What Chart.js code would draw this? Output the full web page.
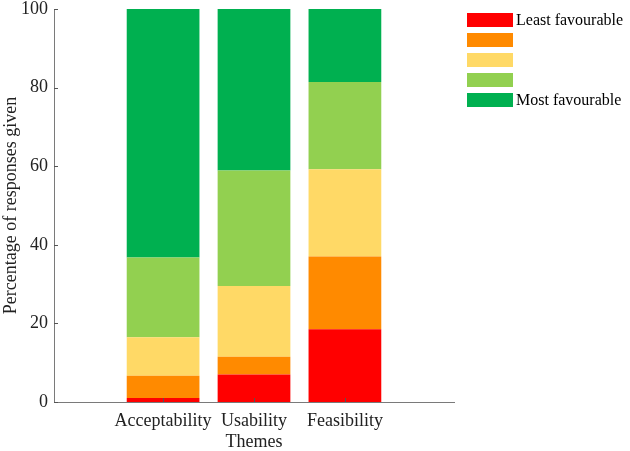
<!DOCTYPE html>
<html>
<head>
<meta charset="utf-8">
<script src="https://cdn.jsdelivr.net/npm/chart.js@4"></script>
<style>
  html, body { margin: 0; padding: 0; background: #fff; }
  #wrap { width: 630px; height: 451px; }
</style>
</head>
<body>
<div id="wrap"><canvas id="chart" width="630" height="451"></canvas></div>
<script>
// categories (x positions 1..3) and legend labels
var themes = ["Acceptability", "Usability", "Feasibility"];
var themePos = [1, 2, 3];
var levels = ["Least favourable", "", "", "", "Most favourable"];
var levelColors = ["#ff0000", "#ff8a00", "#ffd966", "#92d050", "#00b050"];

// percentage of responses per level, one array per level
var leastFav = [1.0, 7.0, 18.5];
var level2 = [5.7, 4.5, 18.5];
var level3 = [9.8, 18.0, 22.2];
var level4 = [20.3, 29.4, 22.2];
var mostFav = [63.2, 41.1, 18.6];
var yTicks = [0, 20, 40, 60, 80, 100];

var series = [leastFav, level2, level3, level4, mostFav];
var serif = "'Liberation Serif', 'Times New Roman', serif";
var axisColor = "#7a7a7a";

// inward tick marks + right-hand legend
var extras = {
    id: "extras",
    afterDatasetsDraw: function (chart) {
        var c = chart.ctx, x = chart.scales.x, y = chart.scales.y;
        c.save();
        c.strokeStyle = "#555";
        c.lineWidth = 1;
        themePos.forEach(function (p) {
            var px = Math.round(x.getPixelForValue(p)) + 0.5;
            c.beginPath();
            c.moveTo(px, y.bottom);
            c.lineTo(px, y.bottom - 4);
            c.stroke();
        });
        yTicks.forEach(function (t) {
            var py = Math.round(y.getPixelForValue(t)) + 0.5;
            c.beginPath();
            c.moveTo(x.left, py);
            c.lineTo(x.left + 4, py);
            c.stroke();
        });
        // legend
        c.font = "16px " + serif;
        c.textBaseline = "middle";
        c.fillStyle = "#000";
        chart.data.datasets.forEach(function (ds, i) {
            var top = 13 + i * 20;
            c.fillStyle = ds.backgroundColor;
            c.fillRect(467, top, 46, 14);
            c.fillStyle = "#000";
            if (ds.label) c.fillText(ds.label, 516, top + 8);
        });
        c.restore();
    }
};

new Chart(document.getElementById("chart"), {
    type: "bar",
    data: {
        datasets: series.map(function (vals, i) {
            return {
                label: levels[i],
                data: vals.map(function (v, j) { return { x: themePos[j], y: v }; }),
                backgroundColor: levelColors[i],
                borderWidth: 0,
                barPercentage: 0.8,
                categoryPercentage: 1.0
            };
        })
    },
    options: {
        responsive: false,
        animation: false,
        layout: { padding: { left: 0, top: 0, right: 176, bottom: 0 } },
        plugins: { legend: { display: false }, tooltip: { enabled: false } },
        scales: {
            x: {
                type: "linear",
                stacked: true,
                offset: false,
                min: -0.2,
                max: 4.2,
                afterBuildTicks: function (s) {
                    s.ticks = themePos.map(function (v) { return { value: v }; });
                },
                afterFit: function (s) { s.height = 49; },
                grid: { display: false, drawTicks: false },
                border: { color: axisColor, width: 1 },
                ticks: {
                    color: "#222",
                    padding: 8,
                    maxRotation: 0,
                    autoSkip: false,
                    font: { family: serif, size: 18 },
                    callback: function (v) {
                        var i = themePos.indexOf(v);
                        return i >= 0 ? themes[i] : "";
                    }
                },
                title: {
                    display: true,
                    text: "Themes",
                    color: "#222",
                    padding: { top: 0, bottom: 0 },
                    font: { family: serif, size: 18, lineHeight: 1.0 }
                }
            },
            y: {
                stacked: true,
                min: 0,
                max: 100,
                afterBuildTicks: function (s) {
                    s.ticks = yTicks.map(function (v) { return { value: v }; });
                },
                afterFit: function (s) { s.width = 54; s.paddingTop = 9; },
                grid: { display: false, drawTicks: false },
                border: { color: axisColor, width: 1 },
                ticks: {
                    color: "#222",
                    padding: 6,
                    font: { family: serif, size: 18 }
                },
                title: {
                    display: true,
                    text: "Percentage of responses given",
                    color: "#222",
                    padding: { top: 0, bottom: 0 },
                    font: { family: serif, size: 18 }
                }
            }
        }
    },
    plugins: [extras]
});
</script>
</body>
</html>
